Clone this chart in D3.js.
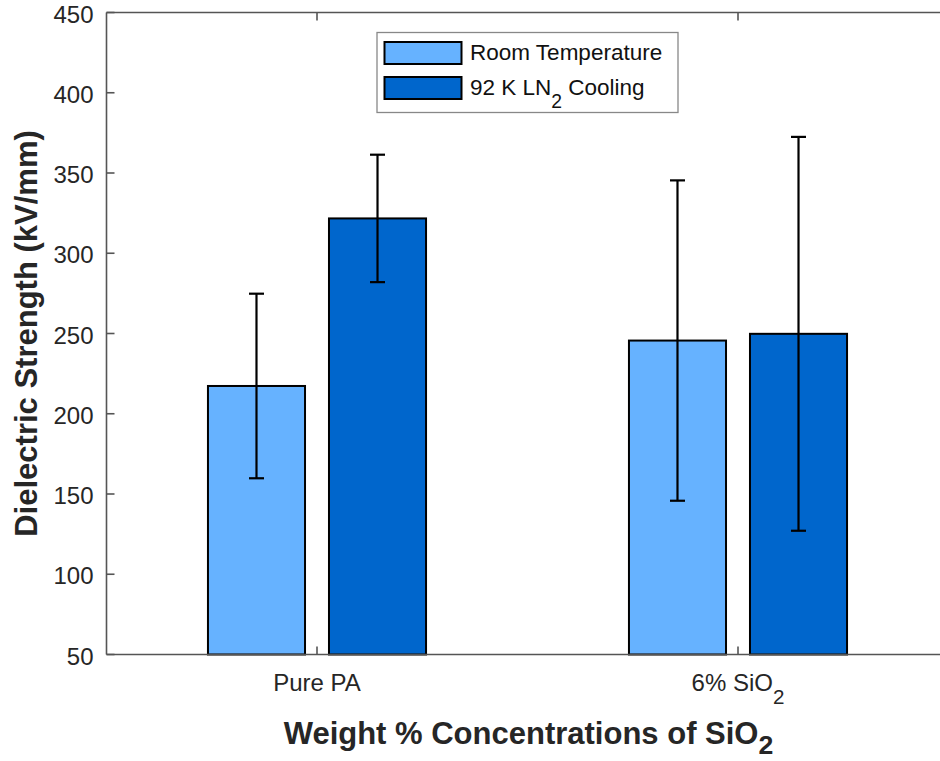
<!DOCTYPE html>
<html>
<head>
<meta charset="utf-8">
<script src="https://cdn.jsdelivr.net/npm/d3@7"></script>
<style>
  html, body { margin: 0; padding: 0; background: #fff; }
  svg { display: block; font-family: "Liberation Sans", Arial, Helvetica, sans-serif; }
</style>
</head>
<body>
<svg id="chart" width="940" height="761"></svg>
<script>
// Dielectric strength of PA and PA + 6 wt% SiO2, room temperature vs. LN2 cooling
const categories = ["Pure PA", "6% SiO2"];
const seriesNames = ["Room Temperature", "92 K LN2 Cooling"];
const roomTemp = [217.3, 245.6];
const roomTempErr = [57.5, 99.8];
const lnCooled = [321.7, 249.8];
const lnCooledErr = [39.7, 122.7];
const yTicks = [50, 100, 150, 200, 250, 300, 350, 400, 450];

const colors = ["#66b2ff", "#0066cc"];
const axisColor = "#555";
const textColor = "#262626";

const svg = d3.select("#chart");

// axes box: x in category units, MATLAB-style limits [0.5, 2.5]
const x = d3.scaleLinear().domain([0.5, 2.5]).range([106.5, 948.5]);
const y = d3.scaleLinear().domain([50, 450]).range([654.5, 12.5]);

const xSub = d3.scaleBand().domain(seriesNames).range([-0.259, 0.259]).paddingInner(0.198);
const barW = x(xSub.bandwidth()) - x(0);

const rows = [];
categories.forEach((c, i) => {
  rows.push({ cat: i + 1, s: seriesNames[0], v: roomTemp[i], e: roomTempErr[i], color: colors[0] });
  rows.push({ cat: i + 1, s: seriesNames[1], v: lnCooled[i], e: lnCooledErr[i], color: colors[1] });
});

// bars
svg.append("g").selectAll("rect").data(rows).join("rect")
  .attr("x", d => x(d.cat + xSub(d.s)))
  .attr("y", d => y(d.v))
  .attr("width", barW)
  .attr("height", d => y(50) - y(d.v))
  .attr("fill", d => d.color)
  .attr("stroke", "#000")
  .attr("stroke-width", 2);

// error bars
const eb = svg.append("g").attr("stroke", "#000").attr("stroke-width", 2.2);
rows.forEach(d => {
  const cx = x(d.cat + xSub(d.s) + xSub.bandwidth() / 2);
  eb.append("line").attr("x1", cx).attr("x2", cx).attr("y1", y(d.v + d.e)).attr("y2", y(d.v - d.e));
  [d.v + d.e, d.v - d.e].forEach(v => {
    eb.append("line").attr("x1", cx - 7.5).attr("x2", cx + 7.5).attr("y1", y(v)).attr("y2", y(v));
  });
});

// axis box lines and ticks
const ax = svg.append("g").attr("stroke", axisColor).attr("stroke-width", 1.6).attr("fill", "none");
ax.append("line").attr("x1", x(0.5)).attr("x2", x(2.5)).attr("y1", y(50)).attr("y2", y(50));
ax.append("line").attr("x1", x(0.5)).attr("x2", x(2.5)).attr("y1", y(450)).attr("y2", y(450));
ax.append("line").attr("x1", x(0.5)).attr("x2", x(0.5)).attr("y1", y(50)).attr("y2", y(450));
yTicks.forEach(t => {
  ax.append("line").attr("x1", x(0.5)).attr("x2", x(0.5) + 8).attr("y1", y(t)).attr("y2", y(t));
});
categories.forEach((c, i) => {
  ax.append("line").attr("x1", x(i + 1)).attr("x2", x(i + 1)).attr("y1", y(50)).attr("y2", y(50) - 8);
  ax.append("line").attr("x1", x(i + 1)).attr("x2", x(i + 1)).attr("y1", y(450)).attr("y2", y(450) + 8);
});

// y tick labels
svg.append("g").selectAll("text").data(yTicks).join("text")
  .attr("x", x(0.5) - 13)
  .attr("y", d => y(d))
  .attr("dy", "0.42em")
  .attr("text-anchor", "end")
  .attr("font-size", 24)
  .attr("fill", textColor)
  .text(d => d);

// writes text pieces; a "sub" piece is lowered TeX-style, the next piece returns to the baseline
function subText(sel, parts, size, drop) {
  let lowered = 0;
  parts.forEach(p => {
    const t = sel.append("tspan").text(p.t);
    if (p.sub) {
      const fs = size * 0.86;
      lowered = drop;
      t.attr("font-size", fs).attr("dy", drop);
    } else if (lowered) {
      t.attr("dy", -lowered);
      lowered = 0;
    }
  });
}

// x tick labels
const xl = svg.append("g").attr("font-size", 24).attr("fill", textColor).attr("text-anchor", "middle");
xl.append("text").attr("x", x(1)).attr("y", 691).text(categories[0]);
subText(xl.append("text").attr("x", x(2)).attr("y", 691), [{ t: "6% SiO" }, { t: "2", sub: true }], 24, 13);

// axis titles
const xt = svg.append("text").attr("x", (x(0.5) + x(2.5)) / 2 + 1).attr("y", 744)
  .attr("text-anchor", "middle").attr("font-size", 31).attr("font-weight", "bold").attr("fill", textColor);
subText(xt, [{ t: "Weight % Concentrations of SiO" }, { t: "2", sub: true }], 31, 10);

svg.append("text")
  .attr("transform", `translate(37,${(y(50) + y(450)) / 2}) rotate(-90)`)
  .attr("text-anchor", "middle").attr("font-size", 31).attr("font-weight", "bold").attr("fill", textColor)
  .text("Dielectric Strength (kV/mm)");

// legend
const lg = svg.append("g");
lg.append("rect").attr("x", 377).attr("y", 32.5).attr("width", 301).attr("height", 80)
  .attr("fill", "#fff").attr("stroke", "#888").attr("stroke-width", 1.3);
const legendRows = [
  { parts: [{ t: "Room Temperature" }], color: colors[0] },
  { parts: [{ t: "92 K LN" }, { t: "2", sub: true }, { t: " Cooling" }], color: colors[1] }
];
legendRows.forEach((r, i) => {
  const top = 42 + i * 35;
  lg.append("rect").attr("x", 384.5).attr("y", top).attr("width", 77).attr("height", 22)
    .attr("fill", r.color).attr("stroke", "#000").attr("stroke-width", 2);
  const t = lg.append("text").attr("x", 470).attr("y", top + 18).attr("font-size", 22.5).attr("fill", "#111");
  subText(t, r.parts, 22.5, 13);
});
</script>
</body>
</html>
